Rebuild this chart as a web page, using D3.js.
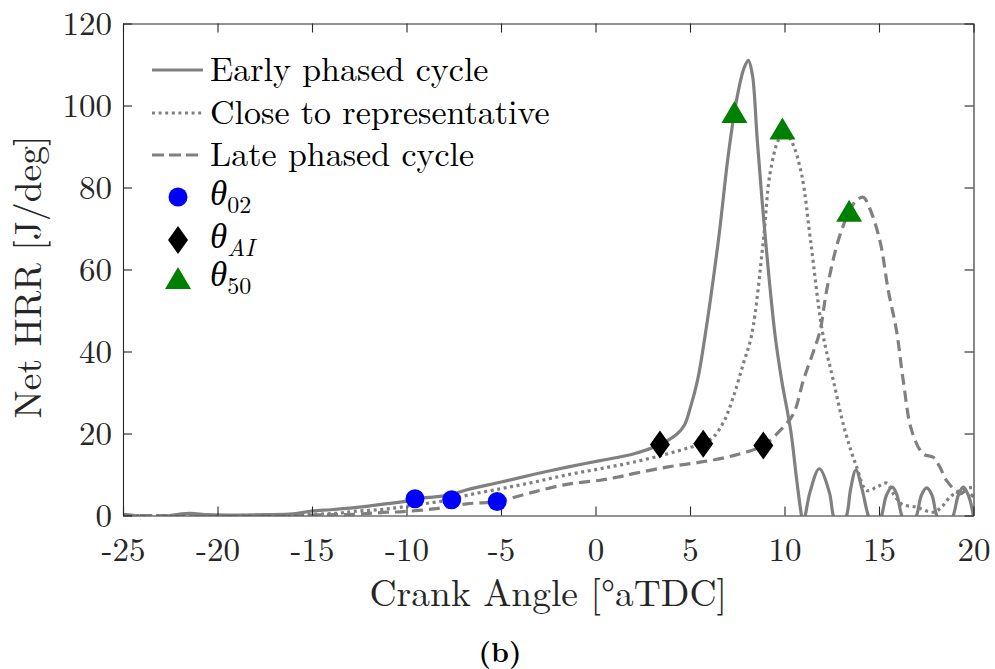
<!DOCTYPE html>
<html><head><meta charset="utf-8">
<script src="https://cdn.jsdelivr.net/npm/d3@7"></script>
<style>body{margin:0;background:#fff}svg{display:block}</style>
</head><body>
<svg id="c" width="995" height="669"></svg>
<script>
// ---- data ----
const seriesNames = ["Early phased cycle", "Close to representative", "Late phased cycle"];

const angleEarly = [-25,-24,-23.3,-22.5,-21.5,-20.5,-19,-17.5,-16,-15,-14,-13,-12,-11,-10,-9.55,-8.6,-7.6,-6.8,-5.05,-3.3,-1.5,0.24,2.0,3.41,4.3,4.7,5.0,5.4,5.76,6.5,7.0,7.34,7.6,7.85,8.09,8.3,8.39,8.56,9.0,9.5,9.85,10.33,10.65,10.9,11.0,11.1,11.35,11.84,12.37,12.58,12.9,13.29,13.5,13.78,14.1,14.43,14.8,15.14,15.4,15.7,15.95,16.2,16.6,16.99,17.25,17.52,17.8,18.05,18.5,18.93,19.2,19.46,19.72,19.99,20];
const hrrEarly   = [0.3,-0.2,-0.7,0,0.5,0.2,0.1,0.2,0.4,1.1,1.4,1.8,2.3,2.9,3.5,4.1,4.5,5.1,6.3,8.1,10.0,11.8,13.4,15.0,17.3,19.8,22,26,33,42.7,67,87,98,104.5,109,111,107.5,103.7,91.5,67,44,33,20.7,8.5,0,-2,0,5.7,11.4,5.7,0,-4,0,6.5,11.1,6.5,0,-4,0,5,6.9,5,0,-4,0,5,6.75,5,0,-4,0,5,6.9,5,0,-0.5];

const angleClose = [-25,-22,-19,-16,-15,-13.5,-12.8,-11.5,-10.34,-8.58,-7.6,-6.82,-5.05,-3.29,-1.52,0.24,2.0,3.77,5.0,5.7,6.23,6.8,7.29,7.82,8.26,8.88,9.23,9.67,10.0,10.4,10.9,11.38,12.0,12.58,13.2,13.82,14.35,14.9,15.4,15.8,16.2,17.0,17.87,18.3,18.76,19.3,20];
const hrrClose   = [0,0,0,0.2,0.3,0.6,1.0,1.4,2.0,3.2,3.9,4.9,6.5,8.1,9.9,11.4,13.0,15.0,16.6,17.6,19.1,23,28.9,37,44,67,83.3,91.5,93.5,91,83.3,67,45,33,20.7,11.8,6.1,7.0,7.9,5,2.8,2.0,0.8,2.0,4.5,6.2,6.9];

const angleLate = [-25,-20,-16,-15,-12.8,-11,-10.34,-8.58,-6.82,-5.2,-4.5,-3.29,-1.52,0.24,1.2,2.0,3.77,5.53,7.29,8.88,9.76,10.47,11.0,11.53,11.88,12.23,12.84,13.41,13.8,14.17,14.5,15.05,15.49,15.93,16.28,16.73,17.34,17.87,18.2,18.58,19.29,19.6,20];
const hrrLate   = [0,0,0,0.1,0.3,0.8,0.9,1.6,2.85,3.4,4.2,5.7,7.6,8.6,9.4,10.2,11.8,13.0,14.6,17.1,20.7,24.8,33,40,45,54.9,67,74,76.8,77.6,75,67,54.9,45,33,20.7,15,14.2,12,8.5,5.3,6.0,4.5];

const theta02Angle = [-9.55, -7.61, -5.2];
const theta02Hrr   = [4.1, 3.85, 3.4];
const thetaAIAngle = [3.41, 5.7, 8.88];
const thetaAIHrr   = [17.3, 17.5, 17.1];
const theta50Angle = [7.35, 9.89, 13.42];
const theta50Hrr   = [98.4, 94.4, 74.3];

const xTicks = [-25,-20,-15,-10,-5,0,5,10,15,20];
const yTicks = [0,20,40,60,80,100,120];

// ---- layout ----
const svg = d3.select("#c");
const L = 123, R = 973.5, T = 23.5, B = 515.5;
const x = d3.scaleLinear().domain([-25,20]).range([L,R]);
const y = d3.scaleLinear().domain([0,120]).range([B,T]);
const axisCol = "#262626";
const lineCol = "#808080";
const font = '"Latin Modern Roman", "Liberation Serif", serif';

function txt(sel, size){
  return sel.attr("font-family", font).style("font-family", font).style("font-size", size + "px");
}

svg.append("defs").append("clipPath").attr("id","clip")
  .append("rect").attr("x",L).attr("y",T).attr("width",R-L).attr("height",B-T);

// curves
const series = [
  {a: angleEarly, v: hrrEarly, dash: null},
  {a: angleClose, v: hrrClose, dash: "3,3.6"},
  {a: angleLate,  v: hrrLate,  dash: "11,6"}
];
const line = d3.line().x(d=>x(d[0])).y(d=>y(d[1])).curve(d3.curveCatmullRom.alpha(0.5));
const gCurves = svg.append("g").attr("clip-path","url(#clip)");
series.forEach(s => {
  gCurves.append("path")
    .attr("d", line(s.a.map((a,i)=>[a,s.v[i]])))
    .attr("fill","none").attr("stroke",lineCol).attr("stroke-width",3.2)
    .attr("stroke-dasharray", s.dash);
});

// axes
function styleAxis(g, hideText){
  g.attr("font-family", font);
  g.selectAll("path.domain").attr("stroke",axisCol).attr("stroke-width",1.1).attr("fill","none");
  g.selectAll(".tick line").attr("stroke",axisCol).attr("stroke-width",1.1);
  txt(g.selectAll(".tick text"), 33).attr("fill",axisCol);
  if(hideText) g.selectAll(".tick text").remove();
}
const fmt = d => String(d);
svg.append("g").attr("transform",`translate(0,${B})`)
  .call(d3.axisBottom(x).tickValues(xTicks).tickFormat(fmt).tickSizeInner(-9).tickSizeOuter(0).tickPadding(22))
  .call(g=>styleAxis(g,false));
svg.append("g").attr("transform",`translate(0,${T})`)
  .call(d3.axisTop(x).tickValues(xTicks).tickSizeInner(-9).tickSizeOuter(0))
  .call(g=>styleAxis(g,true));
svg.append("g").attr("transform",`translate(${L},0)`)
  .call(d3.axisLeft(y).tickValues(yTicks).tickFormat(fmt).tickSizeInner(-9).tickSizeOuter(0).tickPadding(11))
  .call(g=>styleAxis(g,false));
svg.append("g").attr("transform",`translate(${R},0)`)
  .call(d3.axisRight(y).tickValues(yTicks).tickSizeInner(-9).tickSizeOuter(0))
  .call(g=>styleAxis(g,true));

// markers
const diamond = "M0,-14L10,0L0,14L-10,0Z";
const triangle = "M0,-11L13,11L-13,11Z";
const gm = svg.append("g");
theta02Angle.forEach((a,i)=>{
  gm.append("circle").attr("cx",x(a)).attr("cy",y(theta02Hrr[i])).attr("r",9.5).attr("fill","#0000ff");
});
thetaAIAngle.forEach((a,i)=>{
  gm.append("path").attr("d",diamond).attr("transform",`translate(${x(a)},${y(thetaAIHrr[i])})`).attr("fill","#000");
});
theta50Angle.forEach((a,i)=>{
  gm.append("path").attr("d",triangle).attr("transform",`translate(${x(a)},${y(theta50Hrr[i])})`).attr("fill","#008000");
});

// legend
const lg = svg.append("g");
const rowY = [70, 113, 155, 197, 240, 278];
series.forEach((s,i)=>{
  lg.append("line").attr("x1",152).attr("x2",203).attr("y1",rowY[i]).attr("y2",rowY[i])
    .attr("stroke",lineCol).attr("stroke-width",3.2).attr("stroke-dasharray", s.dash ? (i===2?"12,5":"3,3.6") : null);
  txt(lg.append("text").attr("x",210).attr("y",rowY[i]+11).text(seriesNames[i]), 34).attr("fill","#000");
});
lg.append("circle").attr("cx",178).attr("cy",rowY[3]).attr("r",9.5).attr("fill","#0000ff");
lg.append("path").attr("d",diamond).attr("transform",`translate(178,${rowY[4]})`).attr("fill","#000");
lg.append("path").attr("d",triangle).attr("transform",`translate(178,${rowY[5]})`).attr("fill","#008000");
const subs = [{s:"02",it:false},{s:"AI",it:true},{s:"50",it:false}];
subs.forEach((d,i)=>{
  const t = txt(lg.append("text").attr("x",210).attr("y",rowY[3+i]+8), 35).attr("fill","#000");
  t.append("tspan").text("θ").style("font-style","italic");
  t.append("tspan").text(d.s).attr("dy",8).style("font-size","24px").style("font-style",d.it?"italic":"normal");
});

// axis labels
txt(svg.append("text").attr("x",(L+R)/2).attr("y",606).attr("text-anchor","middle"), 37.5)
  .attr("fill",axisCol).text("Crank Angle [°aTDC]");
txt(svg.append("text").attr("transform","translate(41,277) rotate(-90)").attr("text-anchor","middle"), 37.5)
  .attr("fill",axisCol).text("Net HRR [J/deg]");
txt(svg.append("text").attr("x",500).attr("y",662).attr("text-anchor","middle"), 28)
  .style("font-weight","bold").attr("fill","#000").text("(b)");
</script>
</body></html>
